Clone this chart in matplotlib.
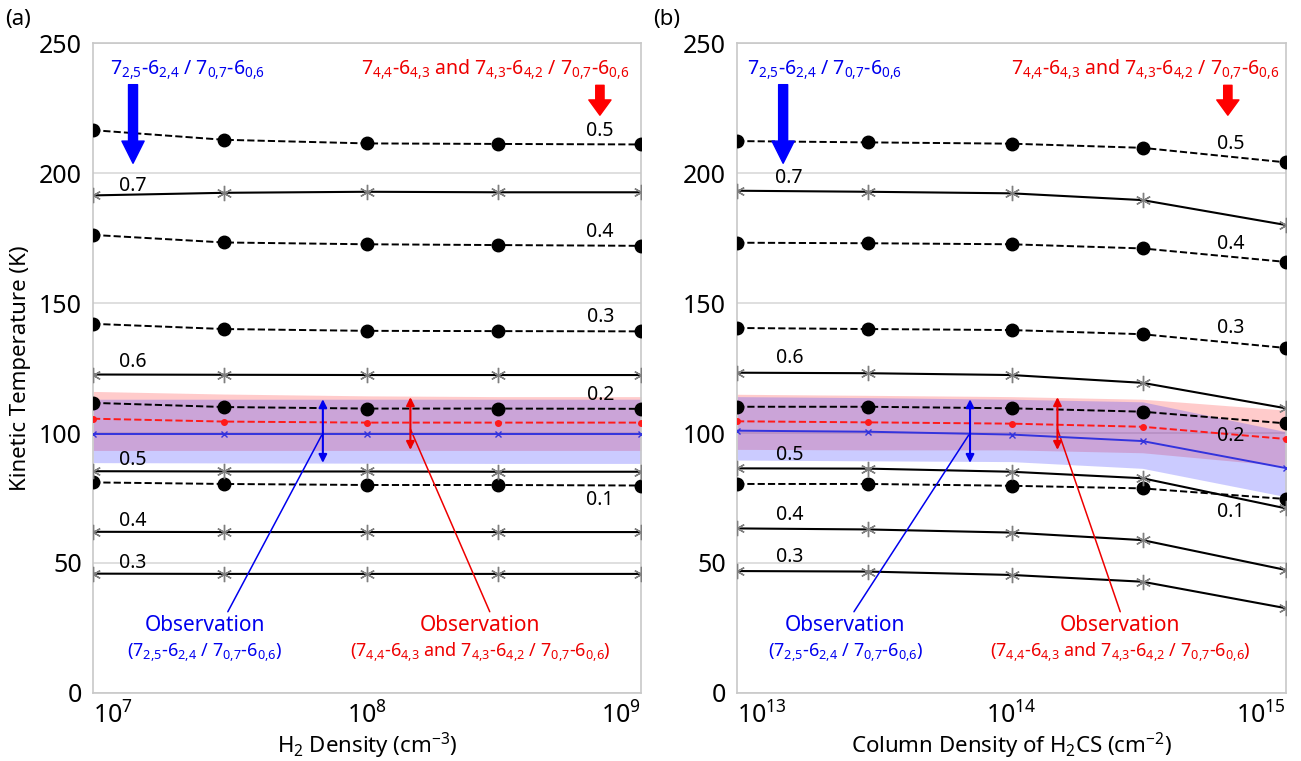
import matplotlib
matplotlib.use("Agg")
import matplotlib.pyplot as plt
from matplotlib import font_manager

# fuente angosta si existe
disponibles = {f.name for f in font_manager.fontManager.ttflist}
fuente = 'Liberation Sans Narrow' if 'Liberation Sans Narrow' in disponibles else 'Noto Sans'
plt.rcParams['font.family'] = [fuente, 'DejaVu Sans']
plt.rcParams['mathtext.fontset'] = 'custom'
plt.rcParams['mathtext.rm'] = fuente

# ---------------- datos ----------------
n_h2 = [1e7, 3e7, 1e8, 3e8, 1e9]
N_h2cs = [1e13, 3e13, 1e14, 3e14, 1e15]

# panel (a): linea discontinua = cociente rojo, continua = cociente azul
a_discont = {
    '0.5': [216.5, 212.8, 211.4, 211.2, 211.0],
    '0.4': [176.2, 173.3, 172.6, 172.3, 172.0],
    '0.3': [142.0, 140.0, 139.3, 139.2, 139.1],
    '0.2': [111.6, 110.0, 109.4, 109.4, 109.3],
    '0.1': [81.0, 80.4, 80.0, 80.0, 79.8],
}
a_cont = {
    '0.7': [191.4, 192.4, 192.8, 192.6, 192.6],
    '0.6': [122.5, 122.4, 122.3, 122.3, 122.3],
    '0.5': [85.3, 85.2, 85.2, 85.1, 85.1],
    '0.4': [62.0, 61.9, 61.9, 61.9, 61.9],
    '0.3': [45.9, 45.8, 45.8, 45.8, 45.8],
}
a_obs_rojo = [105.5, 104.4, 104.0, 104.0, 104.0]
a_obs_azul = [99.8, 99.8, 99.8, 99.8, 99.8]
a_rojo_sup = [116.0, 115.0, 114.3, 114.0, 114.0]
a_rojo_inf = [93.3, 93.3, 93.3, 93.3, 93.3]
a_azul_sup = [113.0, 113.0, 113.0, 113.0, 113.0]
a_azul_inf = [88.6, 88.5, 88.4, 88.3, 88.3]

# panel (b)
b_discont = {
    '0.5': [212.3, 211.8, 211.3, 209.7, 204.1],
    '0.4': [173.2, 173.0, 172.6, 171.0, 165.8],
    '0.3': [140.4, 140.0, 139.6, 138.0, 132.7],
    '0.2': [110.1, 110.1, 109.5, 108.2, 103.7],
    '0.1': [80.4, 80.4, 79.7, 78.7, 74.6],
}
b_cont = {
    '0.7': [193.2, 192.8, 192.2, 189.6, 180.0],
    '0.6': [123.2, 123.0, 122.3, 119.3, 109.5],
    '0.5': [86.4, 86.3, 85.1, 82.6, 71.0],
    '0.4': [63.3, 62.9, 61.7, 58.8, 47.3],
    '0.3': [46.9, 46.7, 45.4, 42.8, 32.6],
}
b_obs_rojo = [104.5, 104.1, 103.6, 102.4, 97.7]
b_obs_azul = [100.9, 100.5, 99.4, 96.9, 86.5]
b_rojo_sup = [114.9, 114.5, 114.0, 113.0, 108.8]
b_rojo_inf = [93.7, 93.5, 93.5, 92.4, 87.3]
b_azul_sup = [114.0, 113.6, 113.0, 112.0, 100.5]
b_azul_inf = [89.6, 89.3, 89.0, 86.4, 75.5]

# rango observado (flechas dobles)
a_flecha_x = [6.9e7, 1.44e8]
b_flecha_x = [7.06e13, 1.47e14]
rango_azul = [88.5, 113.0]
rango_rojo = [93.5, 113.8]

# posiciones de las etiquetas de cociente (x, y)
a_etq = [('0.5', 7.1e8, 216), ('0.7', 1.4e7, 195), ('0.4', 7.1e8, 177.5),
         ('0.3', 7.1e8, 144.6), ('0.6', 1.4e7, 127.3), ('0.2', 7.1e8, 114.6),
         ('0.5', 1.4e7, 89.6), ('0.1', 7.1e8, 74.2), ('0.4', 1.4e7, 66),
         ('0.3', 1.4e7, 50)]
b_etq = [('0.5', 6.3e14, 211), ('0.7', 1.55e13, 198), ('0.4', 6.3e14, 172.7),
         ('0.3', 6.3e14, 140.4), ('0.6', 1.55e13, 128.8), ('0.2', 6.3e14, 98.8),
         ('0.5', 1.55e13, 91.5), ('0.1', 6.3e14, 69.6), ('0.4', 1.55e13, 68.5),
         ('0.3', 1.55e13, 52.3)]


def nivel(n, a, b):
    # numero con subindice "a,b" sin espacio tras la coma
    return r'$\mathregular{%s_{%s{,}%s}}$' % (n, a, b)


txt_azul = nivel(7, 2, 5) + '-' + nivel(6, 2, 4) + ' / ' + nivel(7, 0, 7) + '-' + nivel(6, 0, 6)
txt_rojo = (nivel(7, 4, 4) + '-' + nivel(6, 4, 3) + ' and ' + nivel(7, 4, 3) + '-' + nivel(6, 4, 2)
            + ' / ' + nivel(7, 0, 7) + '-' + nivel(6, 0, 6))

asterisco = (6, 2, 0)


def panel(ax, x, discont, cont, obs_r, obs_a, r_sup, r_inf, az_sup, az_inf,
          flecha_x, etiquetas, xticks, xticklabels, xlabel, pos):
    ax.fill_between(x, r_inf, r_sup, color='#ff3333', alpha=0.25, lw=0, zorder=1)
    ax.fill_between(x, az_inf, az_sup, color='#3333ff', alpha=0.25, lw=0, zorder=1)
    for k, v in discont.items():
        ax.plot(x, v, '--', color='black', lw=1.4, marker='o', ms=9, zorder=3)
    for k, v in cont.items():
        ax.plot(x, v, '-', color='black', lw=1.5, marker=asterisco, ms=11,
                mec='#7f7f7f', mew=1.0, zorder=3)
    ax.plot(x, obs_r, '--', color='#ff1a1a', lw=1.4, marker='o', ms=4, zorder=4)
    ax.plot(x, obs_a, '-', color='#3333dd', lw=1.4, marker='x', ms=4, zorder=4)

    for t, xx, yy in etiquetas:
        ax.text(xx, yy, t, fontsize=14, ha='center', va='center', zorder=5)

    # flechas dobles del rango observado
    ax.annotate('', xy=(flecha_x[0], rango_azul[1]), xytext=(flecha_x[0], rango_azul[0]),
                arrowprops=dict(arrowstyle='<|-|>', color='#0000ee', lw=1.5,
                                mutation_scale=12, shrinkA=0, shrinkB=0), zorder=6)
    ax.annotate('', xy=(flecha_x[1], rango_rojo[1]), xytext=(flecha_x[1], rango_rojo[0]),
                arrowprops=dict(arrowstyle='<|-|>', color='#ee0000', lw=1.5,
                                mutation_scale=12, shrinkA=0, shrinkB=0), zorder=6)

    # lineas hacia el texto "Observation"
    ax.annotate('', xy=(flecha_x[0], 100), xycoords='data',
                xytext=(pos['az_lin'], 0.125), textcoords='axes fraction',
                arrowprops=dict(arrowstyle='-', color='#0000ee', lw=1.1,
                                shrinkA=0, shrinkB=0))
    ax.annotate('', xy=(flecha_x[1], 101.5), xycoords='data',
                xytext=(pos['r_lin'], 0.125), textcoords='axes fraction',
                arrowprops=dict(arrowstyle='-', color='#ee0000', lw=1.1,
                                shrinkA=0, shrinkB=0))
    ax.text(pos['az_txt'], 0.104, 'Observation', color='#0000ee', fontsize=15,
            ha='center', va='center', transform=ax.transAxes)
    ax.text(pos['az_txt'], 0.062, '(' + txt_azul + ')', color='#0000ee', fontsize=13,
            ha='center', va='center', transform=ax.transAxes)
    ax.text(pos['r_txt'], 0.104, 'Observation', color='#ee0000', fontsize=15,
            ha='center', va='center', transform=ax.transAxes)
    ax.text(pos['r_txt'], 0.062, '(' + txt_rojo + ')', color='#ee0000', fontsize=13,
            ha='center', va='center', transform=ax.transAxes)

    # rotulos de arriba y flechas gruesas
    ax.text(pos['az_top'], 0.958, txt_azul, color='#0000ee', fontsize=14,
            ha='center', va='center', transform=ax.transAxes)
    ax.text(pos['r_top'], 0.958, txt_rojo, color='#ee0000', fontsize=14,
            ha='center', va='center', transform=ax.transAxes)
    ax.annotate('', xy=(pos['az_fl'], 0.815), xytext=(pos['az_fl'], 0.936),
                xycoords='axes fraction',
                arrowprops=dict(arrowstyle='simple,head_length=1.6,head_width=1.6,tail_width=0.65',
                                color='#0000ff', mutation_scale=10, shrinkA=0, shrinkB=0))
    ax.annotate('', xy=(pos['r_fl'], 0.889), xytext=(pos['r_fl'], 0.935),
                xycoords='axes fraction',
                arrowprops=dict(arrowstyle='simple,head_length=1.1,head_width=1.6,tail_width=0.6',
                                color='#ff0000', mutation_scale=10, shrinkA=0, shrinkB=0))

    ax.set_xscale('log')
    ax.set_xlim(x[0], x[-1])
    ax.set_ylim(0, 250)
    ax.set_yticks([0, 50, 100, 150, 200, 250])
    ax.yaxis.grid(True, color='#d9d9d9', lw=1.2)
    ax.set_axisbelow(True)
    ax.minorticks_off()
    ax.set_xticks(xticks)
    ax.set_xticklabels(xticklabels)
    tl = ax.get_xticklabels()
    tl[0].set_ha('left')
    tl[-1].set_ha('right')
    ax.tick_params(axis='both', length=0, labelsize=18, pad=8)
    ax.tick_params(axis='x', pad=7)
    for s in ax.spines.values():
        s.set_color('#c8c8c8')
        s.set_linewidth(1.2)
    ax.set_xlabel(xlabel, fontsize=16)
    ax.xaxis.set_label_coords(0.5, -0.058)


fig = plt.figure(figsize=(13.01, 7.61), dpi=100)
ax1 = fig.add_axes([0.0715, 0.0894, 0.4212, 0.854])
ax2 = fig.add_axes([0.5665, 0.0894, 0.422, 0.854])

panel(ax1, n_h2, a_discont, a_cont, a_obs_rojo, a_obs_azul, a_rojo_sup, a_rojo_inf,
      a_azul_sup, a_azul_inf, a_flecha_x, a_etq,
      [1e7, 1e8, 1e9], [r'$\mathregular{10^{7}}$', r'$\mathregular{10^{8}}$', r'$\mathregular{10^{9}}$'],
      r'H$\mathregular{_2}$ Density (cm$\mathregular{^{-3}}$)',
      dict(az_lin=0.246, r_lin=0.724, az_txt=0.204, r_txt=0.706,
           az_top=0.173, r_top=0.734, az_fl=0.073, r_fl=0.925))
panel(ax2, N_h2cs, b_discont, b_cont, b_obs_rojo, b_obs_azul, b_rojo_sup, b_rojo_inf,
      b_azul_sup, b_azul_inf, b_flecha_x, b_etq,
      [1e13, 1e14, 1e15], [r'$\mathregular{10^{13}}$', r'$\mathregular{10^{14}}$', r'$\mathregular{10^{15}}$'],
      r'Column Density of H$\mathregular{_2}$CS (cm$\mathregular{^{-2}}$)',
      dict(az_lin=0.213, r_lin=0.698, az_txt=0.197, r_txt=0.698,
           az_top=0.16, r_top=0.743, az_fl=0.084, r_fl=0.894))

ax1.set_ylabel('Kinetic Temperature (K)', fontsize=16, labelpad=6)
fig.text(0.004, 0.975, '(a)', fontsize=16, va='center')
fig.text(0.502, 0.975, '(b)', fontsize=16, va='center')

fig.savefig('out.png', dpi=100)
